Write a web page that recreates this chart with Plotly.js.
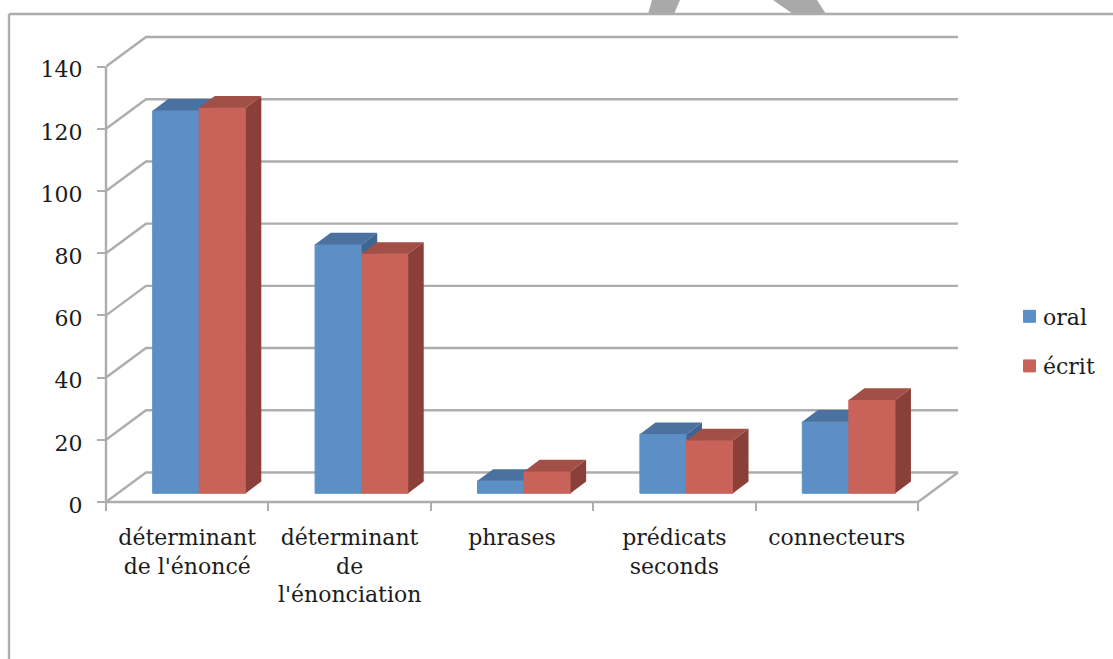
<!DOCTYPE html>
<html>
<head>
<meta charset="utf-8">
<script src="https://cdn.plot.ly/plotly-3.0.1.min.js"></script>
<style>
  html, body { margin: 0; padding: 0; background: #fff; }
  #chart { width: 1113px; height: 659px; }
  /* Tighter gap between the legend swatch and its label */
  .legend .legendpoints { transform: translateX(6.5px); }
</style>
</head>
<body>
<div id="chart"></div>
<script>
// Counts per discourse category, spoken vs written
const categories = ["déterminant<br>de l'énoncé", "déterminant<br>de<br>l'énonciation", "phrases", "prédicats<br>seconds", "connecteurs"];
const oral = [123, 80, 4, 19, 23];
const ecrit = [124, 77, 7, 17, 30];
const yTicks = [0, 20, 40, 60, 80, 100, 120, 140];

// Fake-3D projection, in axis units
const wallDx = 0.2463, wallDy = 9.5;   // front of the floor to the back wall
const barDx = 0.096, barDy = 3.76;     // depth of a column
const baseLift = 2.8;                  // columns stand slightly inside the floor
const barWidth = 0.2864;
const oralLeft = -0.2125, ecritLeft = 0.074;
const xMax = 5, xWall = 5.246, xTop = 5.277, yTop = 151.77;

const colors = {
  oral: {front: "#5b8fc5", top: "#4a719f", side: "#3f6590"},
  ecrit: {front: "#c9635a", top: "#a24f47", side: "#8a4039"},
  grid: "#adadad", text: "#1c1c1c"
};
const serif = "'DejaVu Serif', serif";

const centers = categories.map((_, i) => i + 0.5);

function columnTraces(name, values, left, c, xa, ya) {
  const front = {
    type: "bar", name, legendgroup: name, x: centers, y: values, base: baseLift,
    width: barWidth, offset: left, xaxis: xa, yaxis: ya,
    marker: {color: c.front, line: {width: 1, color: c.front}}, showlegend: true, hoverinfo: "skip"
  };
  const tx = [], ty = [], sx = [], sy = [];
  values.forEach((v, i) => {
    const x0 = centers[i] + left, x1 = x0 + barWidth, yf = v + baseLift;
    tx.push(x0, x1, x1 + barDx, x0 + barDx, x0, null);
    ty.push(yf, yf, yf + barDy, yf + barDy, yf, null);
    sx.push(x1, x1 + barDx, x1 + barDx, x1, x1, null);
    sy.push(yf, yf + barDy, baseLift + barDy, baseLift, yf, null);
  });
  const face = (x, y, color) => ({
    type: "scatter", mode: "lines", x, y, xaxis: xa, yaxis: ya, fill: "toself",
    fillcolor: color, line: {width: 0, color}, showlegend: false, hoverinfo: "skip"
  });
  return [front, face(tx, ty, c.top), face(sx, sy, c.side)];
}

// Gridlines run up the side wall and along the back wall
const gridShapes = yTicks.map(v => ({
  type: "path", layer: "below", xref: "x", yref: "y",
  path: `M 0 ${v} L ${wallDx} ${v + wallDy} L ${xWall} ${v + wallDy}`,
  line: {color: colors.grid, width: 2.4}
}));

// Value axis and floor edges use paper fractions so the stroke is not cut at the plot edge
const toPaper = (x, y) => `${x / xTop} ${y / yTop}`;
gridShapes.push({
  type: "path", layer: "below", xref: "paper", yref: "paper",
  path: `M ${toPaper(0, yTicks[yTicks.length - 1])} L ${toPaper(0, 0)} L ${toPaper(xMax, 0)} L ${toPaper(xWall, wallDy)}`,
  line: {color: colors.grid, width: 2.4}
});

// Page frame and the grey arc clipped by its top edge, placed in plot fractions
const M = {l: 106, r: 150, t: 30, b: 157, autoexpand: false};
const W = 1113 - M.l - M.r, H = 659 - M.t - M.b;
const fx = p => (p - M.l) / W, fy = p => 1 - (p - M.t) / H;
const poly = pts => pts.map((p, i) => `${i ? "L" : "M"} ${fx(p[0])} ${fy(p[1])}`).join(" ") + " Z";
const decor = [
  {type: "path", layer: "below", xref: "paper", yref: "paper",
   path: poly([[652, 0], [680, 0], [674, 14], [648, 14]]), fillcolor: "#a9a9a9", line: {width: 0}},
  {type: "path", layer: "below", xref: "paper", yref: "paper",
   path: poly([[773, 0], [817, 0], [826, 14], [793, 14]]), fillcolor: "#a9a9a9", line: {width: 0}},
  {type: "line", xref: "paper", yref: "paper", x0: fx(9), x1: fx(9), y0: fy(14), y1: fy(659),
   line: {color: "#adadad", width: 2.4}},
  {type: "line", xref: "paper", yref: "paper", x0: fx(9), x1: fx(1113), y0: fy(14), y1: fy(14),
   line: {color: "#adadad", width: 2.4}}
];

const traces = [
  ...columnTraces("oral", oral, oralLeft, colors.oral, "x", "y"),
  ...columnTraces("écrit", ecrit, ecritLeft, colors.ecrit, "x2", "y2")
];

const yRange = [0, yTop];
const layout = {
  width: 1113, height: 659, margin: M,
  paper_bgcolor: "#fff", plot_bgcolor: "rgba(0,0,0,0)",
  font: {family: serif, size: 22, color: colors.text},
  barmode: "overlay",
  showlegend: true,
  legend: {x: fx(1003), y: fy(295.5), xanchor: "left", yanchor: "top",
           font: {family: serif, size: 22, color: colors.text},
           traceorder: "grouped", itemwidth: 30, tracegroupgap: 18, bgcolor: "rgba(0,0,0,0)"},
  xaxis: {range: [0, xTop], tickmode: "array", tickvals: centers, ticktext: categories,
          ticks: "", showgrid: false, zeroline: false, showline: false, tickangle: 0,
          automargin: false, ticklabelstandoff: 20, tickfont: {family: serif, size: 22}},
  yaxis: {range: yRange, tickmode: "array", tickvals: yTicks, ticks: "outside", ticklen: 8,
          tickwidth: 2.2, tickcolor: colors.grid, showgrid: false, zeroline: false,
          showline: false, automargin: false, ticklabelstandoff: 10, ticklabelshift: 3,
          tickfont: {family: serif, size: 22}},
  xaxis2: {range: [0, xTop], overlaying: "x", anchor: "y2", side: "bottom", tickmode: "array",
           tickvals: [0, 1, 2, 3, 4, 5], ticktext: ["", "", "", "", "", ""], ticks: "outside",
           ticklen: 8, tickwidth: 2.2, tickcolor: colors.grid, showgrid: false, zeroline: false,
           showline: false},
  yaxis2: {range: yRange, overlaying: "y", anchor: "x2", showticklabels: false, ticks: "",
           showgrid: false, zeroline: false, showline: false},
  shapes: [...gridShapes, ...decor]
};

Plotly.newPlot("chart", traces, layout, {displayModeBar: false, staticPlot: true});
</script>
</body>
</html>
